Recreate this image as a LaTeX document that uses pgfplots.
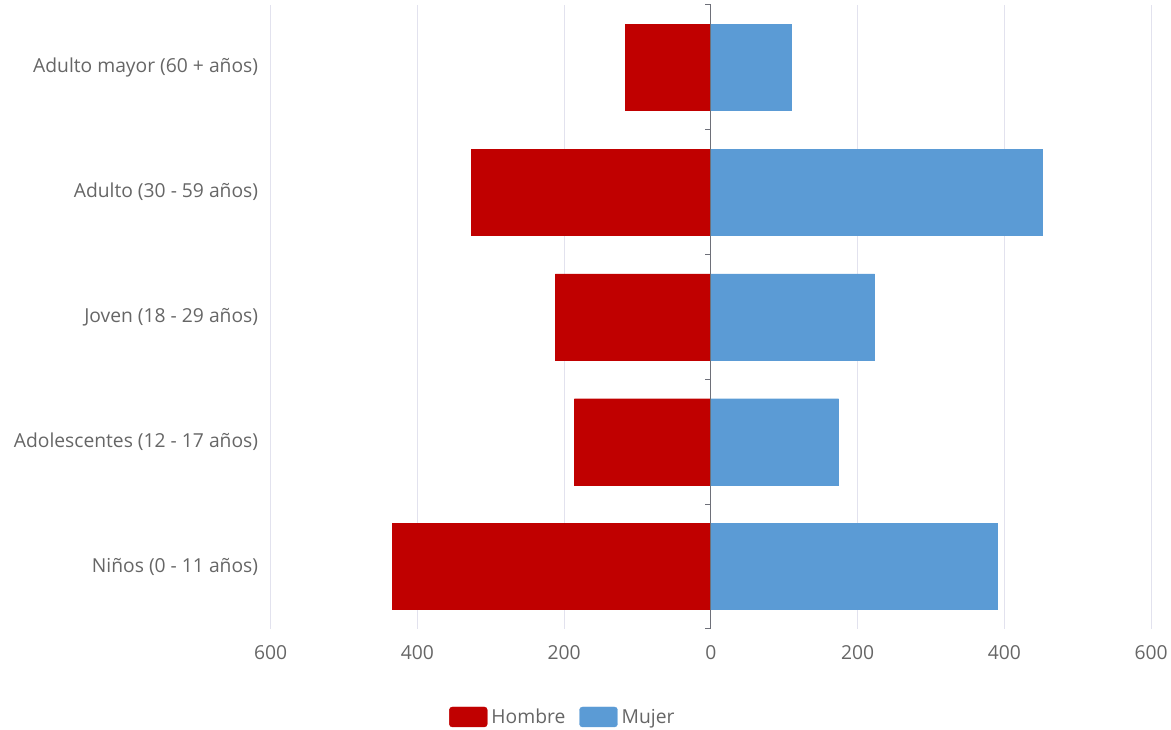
\documentclass[border=0pt]{standalone}
\usepackage{pgfplots}
\pgfplotsset{compat=1.18}
\usepackage{fontspec}
\setmainfont{Open Sans}
\definecolor{hom}{HTML}{C00000}
\definecolor{muj}{HTML}{5B9BD5}
\definecolor{gridc}{HTML}{E2E2EE}
\definecolor{lab}{HTML}{666666}
\definecolor{axc}{HTML}{6E7079}
\begin{document}
\begin{tikzpicture}
\begin{axis}[
  scale only axis, width=882bp, height=625bp,
  xmin=-600, xmax=600, ymin=-0.5, ymax=4.5,
  xbar, bar width=0.69,
  axis line style={draw=none},
  xtick={-600,-400,...,600}, xticklabels={600,400,200,0,200,400,600},
  xmajorgrids, grid style={draw=gridc, line width=0.8bp},
  major tick length=0pt,
  ytick={0,...,4},
  yticklabels={Niños (0 - 11 años), Adolescentes (12 - 17 años), Joven (18 - 29 años), Adulto (30 - 59 años), Adulto mayor (60 + años)},
  tick label style={font=\fontsize{19.3bp}{23bp}\selectfont, text=lab},
  /pgf/number format/assume math mode=true,
  xticklabel style={yshift=-13bp},
  yticklabel style={xshift=-9bp},
  clip=false,
  legend style={at={(0.333,-0.141)}, anchor=center, draw=none, fill=none,
    legend columns=2, font=\fontsize{19.3bp}{23bp}\selectfont\color{lab},
    /tikz/every even column/.append style={column sep=10bp},
    /tikz/every odd column/.append style={column sep=0bp},
    nodes={inner xsep=4bp}},
  legend image code/.code={\draw[#1, rounded corners=3bp] (0bp,-10bp) rectangle (38bp,10bp);},
]
\addplot[fill=hom, draw=hom, bar shift=0pt] coordinates {(-434,0) (-186,1) (-212,2) (-326,3) (-117,4)};
\addlegendentry{Hombre}
\addplot[fill=muj, draw=muj, bar shift=0pt] coordinates {(390,0) (174,1) (223,2) (452,3) (109,4)};
\addlegendentry{Mujer}
\draw[axc, line width=1.2bp] (axis cs:0,-0.5) -- (axis cs:0,4.5);
\pgfplotsinvokeforeach{-0.5,0.5,1.5,2.5,3.5,4.5}{
  \draw[axc, line width=1bp] (axis cs:0,#1) -- ++(-6bp,0pt);
}
\coordinate (O) at (rel axis cs:0,0);
\end{axis}
\path (O) ++(-271bp,-101bp) rectangle ++(1171bp,731bp);
\end{tikzpicture}
\end{document}
